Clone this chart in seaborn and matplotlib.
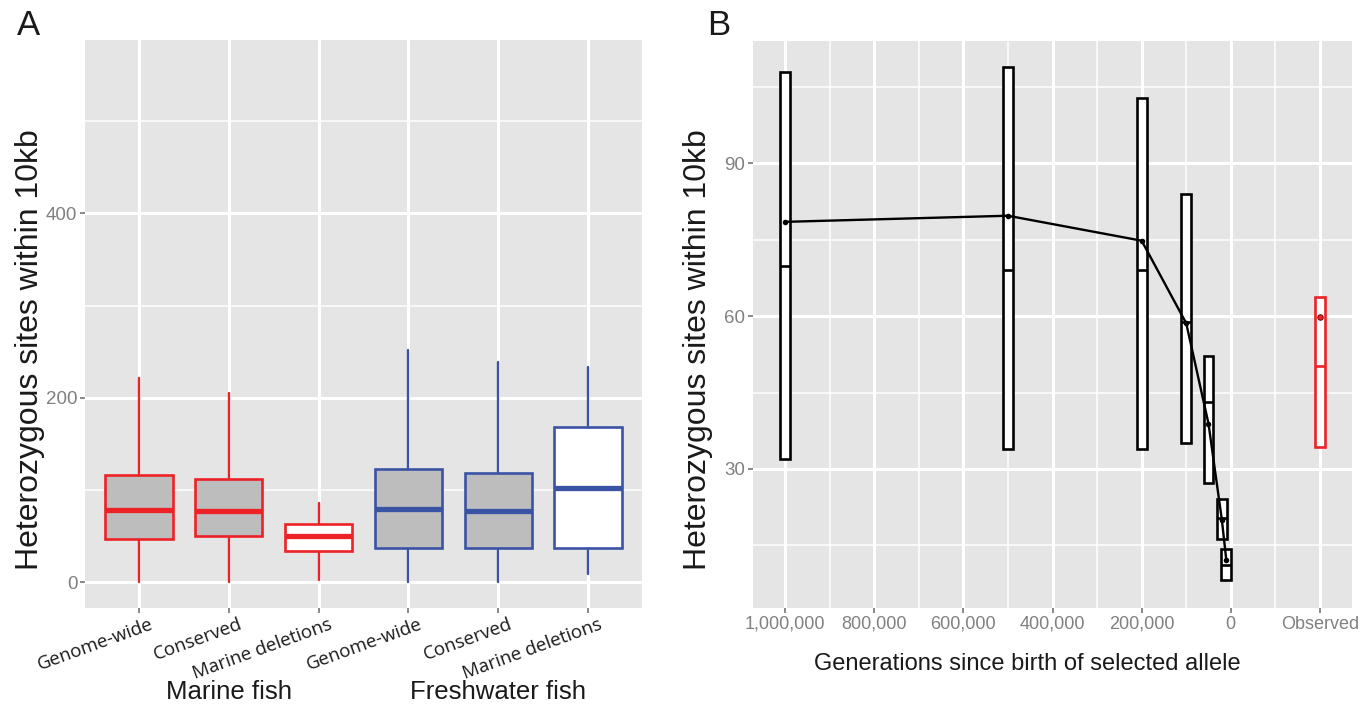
import matplotlib
matplotlib.use("Agg")
import matplotlib.pyplot as plt
import matplotlib.transforms as mtransforms
from matplotlib.ticker import FixedLocator, MultipleLocator
import seaborn as sns

# ---- Panel A: heterozygosity per site class (box summaries) ----
groups = ["Marine fish", "Freshwater fish"]
site_classes = ["Genome-wide", "Conserved", "Marine deletions",
                "Genome-wide", "Conserved", "Marine deletions"]
a_whislo = [0.0, 0.0, 2.5, 0.0, 0.0, 9.3]
a_q1 = [46.9, 49.9, 34.2, 36.6, 36.6, 37.6]
a_med = [78.6, 76.7, 49.9, 79.1, 77.6, 101.6]
a_q3 = [116.2, 111.9, 63.5, 123.0, 118.2, 168.0]
a_whishi = [221.7, 204.7, 86.4, 252.0, 238.8, 232.9]
a_filled = [True, True, False, True, True, False]
a_ticks = [0, 200, 400]

# ---- Panel B: simulated heterozygosity vs allele age ----
generations = [1000000, 500000, 200000, 100000, 50000, 20000, 10000]
b_low = [31.9, 34.0, 34.0, 35.0, 27.2, 16.2, 8.2]
b_median = [69.9, 69.1, 69.1, 58.8, 43.2, 20.4, 11.1]
b_high = [107.9, 108.8, 102.9, 84.0, 52.1, 24.1, 14.3]
b_mean = [78.5, 79.7, 74.8, 58.6, 38.9, 20.0, 12.1]
obs_low = [34.4]
obs_median = [50.2]
obs_high = [63.8]
obs_mean = [59.8]
b_xticks = [1000000, 800000, 600000, 400000, 200000, 0, -200000]
b_xticklabels = ["1,000,000", "800,000", "600,000", "400,000", "200,000", "0", "Observed"]
b_yticks = [30, 60, 90]

RED = "#EC2227"
BLUE = "#3A53A4"
GREY_FILL = "#BDBDBD"
PANEL_BG = "#E5E5E5"
TICK_GREY = "#808080"

sns.set_theme(style="darkgrid", rc={
    "axes.facecolor": PANEL_BG,
    "grid.color": "white",
    "grid.linewidth": 2.2,
    "axes.axisbelow": True,
})
plt.rcParams["font.family"] = ["Liberation Sans", "DejaVu Sans"]

fig = plt.figure(figsize=(13.72, 7.06), dpi=100)
W, H = 1372.0, 706.0
axA = fig.add_axes([85 / W, 1 - 608 / H, (642 - 85) / W, (608 - 40) / H])
axB = fig.add_axes([753 / W, 1 - 608 / H, (1352 - 753) / W, (608 - 41) / H])

for ax in (axA, axB):
    for s in ax.spines.values():
        s.set_visible(False)
    ax.grid(which="major", color="white", linewidth=2.2)
    ax.grid(which="minor", color="white", linewidth=1.1)
    ax.tick_params(which="major", bottom=True, left=True, length=3.5, width=1.3,
                   color=TICK_GREY, direction="out", pad=2)
    ax.tick_params(which="minor", bottom=False, left=False, length=0)

# ---- Panel A ----
stats = []
for i in range(len(site_classes)):
    stats.append(dict(med=a_med[i], q1=a_q1[i], q3=a_q3[i],
                      whislo=a_whislo[i], whishi=a_whishi[i], fliers=[]))
positions = list(range(len(site_classes)))
art = axA.bxp(stats, positions=positions, widths=0.75, patch_artist=True,
              showfliers=False, showcaps=False, manage_ticks=False)
for i, box in enumerate(art["boxes"]):
    col = RED if i < 3 else BLUE
    box.set_facecolor(GREY_FILL if a_filled[i] else "white")
    box.set_edgecolor(col)
    box.set_linewidth(1.9)
    box.set_zorder(3)
    art["medians"][i].set_color(col)
    art["medians"][i].set_linewidth(3.8)
    art["medians"][i].set_solid_capstyle("butt")
    art["medians"][i].set_zorder(4)
    for w in art["whiskers"][2 * i:2 * i + 2]:
        w.set_color(col)
        w.set_linewidth(1.7)
        w.set_zorder(2)

axA.set_xlim(-0.6, len(site_classes) - 0.4)
axA.set_ylim(-28, 588)
axA.set_xticks(positions)
axA.set_xticklabels(site_classes, rotation=20, ha="right", va="baseline",
                    rotation_mode="anchor", fontsize=13.5, color="#1a1a1a",
                    family=["Open Sans", "DejaVu Sans"])
shift = mtransforms.ScaledTranslation(0.15, -0.13, fig.dpi_scale_trans)
for lab in axA.get_xticklabels():
    lab.set_transform(lab.get_transform() + shift)
axA.set_yticks(a_ticks)
axA.yaxis.set_minor_locator(MultipleLocator(100))
axA.set_yticklabels([str(t) for t in a_ticks], fontsize=13.5, color=TICK_GREY)
axA.set_ylabel("Heterozygous sites within 10kb", fontsize=23, color="#1a1a1a",
               va="baseline")
axA.yaxis.set_label_coords((38 - 85) / (642 - 85), (608 - 350) / (608 - 40))

grp_trans = mtransforms.blended_transform_factory(axA.transData, axA.transAxes) + \
    mtransforms.ScaledTranslation(0, -0.91, fig.dpi_scale_trans)
for gi, g in enumerate(groups):
    centre = sum(positions[3 * gi:3 * gi + 3]) / 3.0
    axA.text(centre, 0, g, transform=grp_trans, ha="center", va="baseline",
             fontsize=18.5, color="#1a1a1a")

# ---- Panel B ----
box_w = 22000
b_stats = [dict(med=b_median[i], q1=b_low[i], q3=b_high[i],
                whislo=b_low[i], whishi=b_high[i], fliers=[])
           for i in range(len(generations))]
bart = axB.bxp(b_stats, positions=generations, widths=box_w, patch_artist=True,
               showfliers=False, showcaps=False, manage_ticks=False)
for i, box in enumerate(bart["boxes"]):
    box.set_facecolor("white")
    box.set_edgecolor("black")
    box.set_linewidth(1.9)
    box.set_zorder(3)
    bart["medians"][i].set_color("black")
    bart["medians"][i].set_linewidth(1.9)
    bart["medians"][i].set_zorder(4)

o_stats = [dict(med=obs_median[0], q1=obs_low[0], q3=obs_high[0],
                whislo=obs_low[0], whishi=obs_high[0], fliers=[])]
oart = axB.bxp(o_stats, positions=[b_xticks[-1]], widths=box_w, patch_artist=True,
               showfliers=False, showcaps=False, manage_ticks=False)
oart["boxes"][0].set_facecolor("white")
oart["boxes"][0].set_edgecolor(RED)
oart["boxes"][0].set_linewidth(1.9)
oart["boxes"][0].set_zorder(3)
oart["medians"][0].set_color(RED)
oart["medians"][0].set_linewidth(1.9)
oart["medians"][0].set_zorder(4)

sns.lineplot(x=generations, y=b_mean, ax=axB, color="black", linewidth=1.7,
             marker="o", markersize=4, markeredgewidth=0, zorder=5)
sns.scatterplot(x=[b_xticks[-1]], y=obs_mean, ax=axB, color=RED, s=16,
                edgecolor="#550000", linewidth=0.6, zorder=5)

axB.set_xlim(1072000, -272000)
axB.set_ylim(2.7, 114.0)
axB.set_xticks(b_xticks)
axB.set_xticklabels(b_xticklabels, fontsize=13, color=TICK_GREY)
axB.xaxis.set_minor_locator(FixedLocator([900000, 700000, 500000, 300000, 100000, -100000]))
axB.set_yticks(b_yticks)
axB.yaxis.set_minor_locator(FixedLocator([15, 45, 75, 105]))
axB.set_yticklabels([str(t) for t in b_yticks], fontsize=13.5, color=TICK_GREY)
axB.set_xlabel("Generations since birth of selected allele", fontsize=17,
               color="#1a1a1a", va="baseline")
axB.xaxis.set_label_coords((1027 - 753) / (1352 - 753), -(670 - 608) / (608 - 41))
axB.set_ylabel("Heterozygous sites within 10kb", fontsize=23, color="#1a1a1a",
               va="baseline")
axB.yaxis.set_label_coords((706 - 753) / (1352 - 753), (608 - 350) / (608 - 41))

fig.text(17 / W, 1 - 35 / H, "A", fontsize=25, color="#1a1a1a", va="baseline")
fig.text(707 / W, 1 - 35 / H, "B", fontsize=25, color="#1a1a1a", va="baseline")

fig.savefig("out.png", dpi=100)
